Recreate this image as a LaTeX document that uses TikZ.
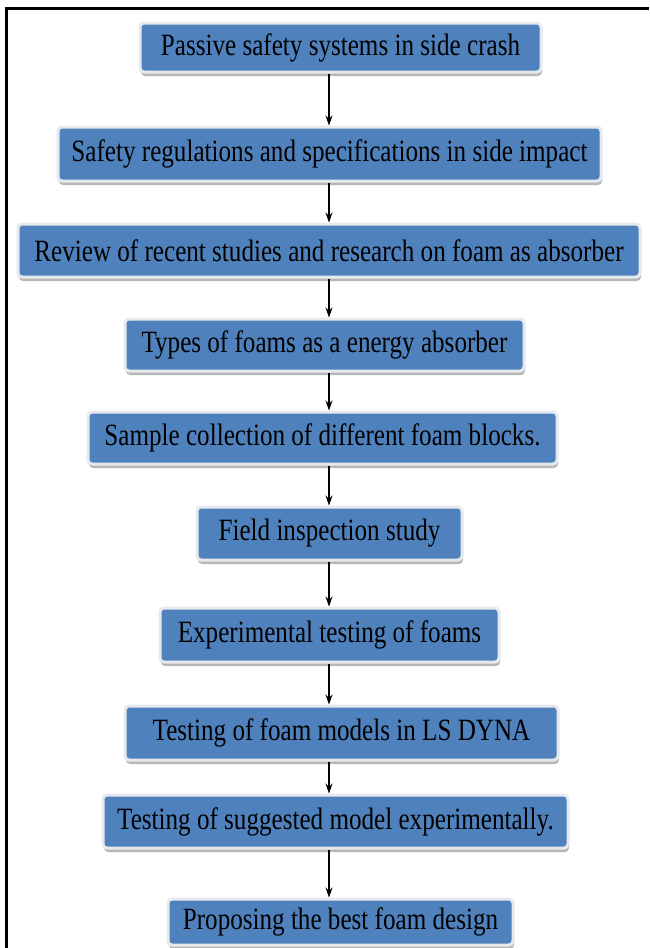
\documentclass[tikz,border=0pt]{standalone}
\usepackage{fontspec}
\setmainfont{Liberation Serif}[FakeStretch=0.81]
\usetikzlibrary{shadows,arrows.meta}
\definecolor{boxblue}{HTML}{4F81BD}
\definecolor{rimgray}{HTML}{E6E9EE}
\tikzset{
  box/.style={rectangle, rounded corners=4pt, fill=boxblue, draw=rimgray, line width=3pt,
    inner sep=0pt, font=\fontsize{31}{36}\selectfont, text=black,
    drop shadow={shadow xshift=1pt, shadow yshift=-4pt, fill=gray!70, opacity=0.8}},
  arr/.style={line width=1.2pt, -{Stealth[length=10pt,width=7pt]}},
  frame/.style={line width=3pt, black}
}
\begin{document}
\begin{tikzpicture}[x=1pt,y=-1pt]
\useasboundingbox (0,0) rectangle (649,948);
\fill[white] (0,0) rectangle (649,948);
\coordinate (fa) at (6,948);
\coordinate (fb) at (6,8);
\coordinate (fc) at (649,8);
\draw[frame] (fa) -- (fb) -- (fc);
\coordinate (ax) at (329,0);
\node[box, minimum width=401pt, minimum height=49pt] (b1) at (340.5,47.5) {Passive safety systems in side crash};
\node[box, minimum width=543pt, minimum height=54pt] (b2) at (329.5,154) {Safety regulations and specifications in side impact};
\node[box, minimum width=622pt, minimum height=53pt] (b3) at (329,250.5) {Review of recent studies and research on foam as absorber};
\node[box, minimum width=399pt, minimum height=52pt] (b4) at (324.5,345) {Types of foams as a energy absorber};
\node[box, minimum width=469pt, minimum height=52pt] (b5) at (322.5,438) {Sample collection of different foam blocks.};
\node[box, minimum width=265pt, minimum height=53pt] (b6) at (329.5,533.5) {Field inspection study};
\node[box, minimum width=339pt, minimum height=54pt] (b7) at (329.5,635) {Experimental testing of foams};
\node[box, minimum width=433pt, minimum height=54pt] (b8) at (341.5,733) {Testing of foam models in LS DYNA};
\node[box, minimum width=465pt, minimum height=53pt] (b9) at (335.5,821.5) {Testing of suggested model experimentally.};
\node[box, minimum width=345pt, minimum height=46pt] (b10) at (340.5,922) {Proposing the best foam design};
\draw[arr] (b1.south -| ax) -- (b2.north -| ax);
\draw[arr] (b2.south -| ax) -- (b3.north -| ax);
\draw[arr] (b3.south -| ax) -- (b4.north -| ax);
\draw[arr] (b4.south -| ax) -- (b5.north -| ax);
\draw[arr] (b5.south -| ax) -- (b6.north -| ax);
\draw[arr] (b6.south -| ax) -- (b7.north -| ax);
\draw[arr] (b7.south -| ax) -- (b8.north -| ax);
\draw[arr] (b8.south -| ax) -- (b9.north -| ax);
\draw[arr] (b9.south -| ax) -- (b10.north -| ax);
\end{tikzpicture}
\end{document}
